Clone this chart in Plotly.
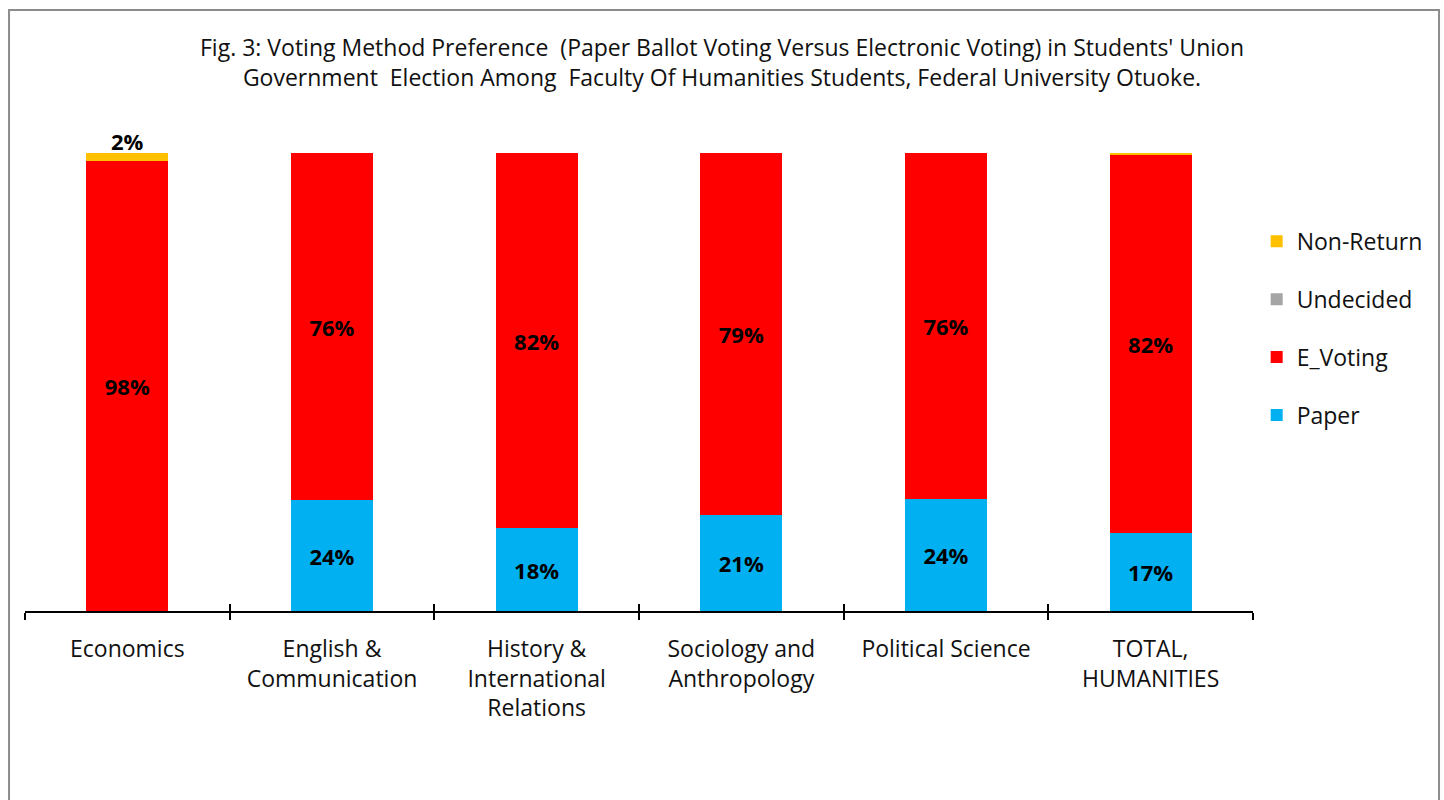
import plotly.graph_objects as go

# Faculty departments and the share of respondents (%) for each voting option
categories = [
    "Economics",
    "English &<br>Communication",
    "History &<br>International<br>Relations",
    "Sociology and<br>Anthropology",
    "Political Science",
    "TOTAL,<br>HUMANITIES",
]
paper = [0.0, 24.2, 18.1, 21.0, 24.4, 17.1]
e_voting = [98.3, 75.8, 81.9, 79.0, 75.6, 82.5]
undecided = [0.0, 0.0, 0.0, 0.0, 0.0, 0.0]
non_return = [1.7, 0.0, 0.0, 0.0, 0.0, 0.4]

# name, values, colour, legend rank (top of legend first)
series = [
    ("Paper", paper, "#00B0F0", 4),
    ("E_Voting", e_voting, "#FF0000", 3),
    ("Undecided", undecided, "#A5A5A5", 2),
    ("Non-Return", non_return, "#FFC000", 1),
]

FONT = "Open Sans"
TEXT = "#111111"
LABEL_FONT = dict(family=FONT, size=22, color="black", weight="bold")


def labels(values):
    return [f"{v:.0f}%" if v >= 1 else "" for v in values]


fig = go.Figure()
for name, vals, color, rank in series:
    is_top = name == "Non-Return"
    fig.add_trace(go.Bar(
        x=categories,
        y=vals,
        name=name,
        legendgroup=name,
        legendrank=rank,
        marker=dict(color=color, line=dict(width=0)),
        text=None if is_top else labels(vals),
        textposition="inside",
        insidetextanchor="middle",
        textangle=0,
        textfont=LABEL_FONT,
        cliponaxis=False,
        hoverinfo="x+y+name",
    ))

# Non-Return shares sit just above the top of their stacks
totals = [p + e + u + n for p, e, u, n in zip(paper, e_voting, undecided, non_return)]
annotations = [
    dict(x=cat, y=tot, xref="x", yref="y", text=lab, showarrow=False,
         yanchor="bottom", yshift=-5, font=LABEL_FONT)
    for cat, tot, lab in zip(categories, totals, labels(non_return)) if lab
]

# Secondary x axis carrying the upward half of the crossing tick marks
fig.add_trace(go.Bar(x=categories, y=[0] * len(categories), xaxis="x2",
                     showlegend=False, hoverinfo="skip",
                     marker=dict(color="rgba(0,0,0,0)")))

fig.update_layout(
    width=1444,
    height=800,
    barmode="stack",
    bargap=0.6,
    paper_bgcolor="white",
    plot_bgcolor="white",
    margin=dict(l=25, r=191, t=153, b=189),
    title=dict(
        text="Fig. 3: Voting Method Preference  (Paper Ballot Voting Versus Electronic Voting) in Students' Union<br>"
             "Government  Election Among  Faculty Of Humanities Students, Federal University Otuoke.",
        x=0.5, xanchor="center", y=0.93, yanchor="top",
        font=dict(family=FONT, size=23, color=TEXT),
    ),
    font=dict(family=FONT, size=23, color=TEXT),
    legend=dict(
        x=1.003, xanchor="left", y=0.854, yanchor="top",
        traceorder="grouped",
        tracegroupgap=25,
        font=dict(family=FONT, size=23, color=TEXT),
        itemwidth=30,
        bgcolor="rgba(0,0,0,0)",
    ),
    annotations=annotations,
    xaxis=dict(
        type="category",
        showline=True, linecolor="black", linewidth=2,
        ticks="outside", ticklen=7, tickwidth=2, tickcolor="black",
        tickson="boundaries",
        ticklabelstandoff=16,
        tickfont=dict(family=FONT, size=23, color=TEXT),
        showgrid=False,
        fixedrange=True,
    ),
    xaxis2=dict(
        type="category", overlaying="x", matches="x", anchor="y",
        side="bottom",
        ticks="inside", ticklen=7, tickwidth=2, tickcolor="black",
        tickson="boundaries", showticklabels=False, showline=False,
        showgrid=False,
    ),
    yaxis=dict(range=[0, 100], visible=False, fixedrange=True),
    shapes=[dict(
        type="rect", xref="paper", yref="paper",
        x0=-0.013, x1=1.1515, y0=-0.45, y1=1.312,
        line=dict(color="#8c8c8c", width=2), fillcolor="rgba(0,0,0,0)",
        layer="below",
    )],
)

fig.write_html("out.html")
